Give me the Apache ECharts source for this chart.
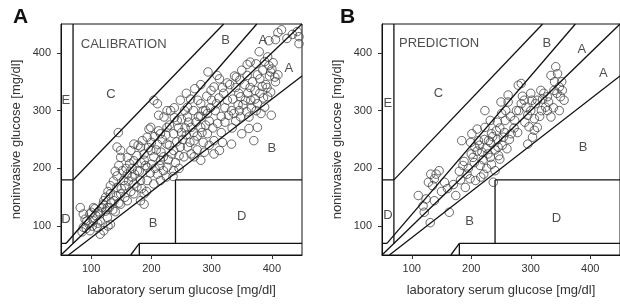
<!DOCTYPE html>
<html>
<head>
<meta charset="utf-8">
<script src="https://cdn.jsdelivr.net/npm/echarts@6/dist/echarts.min.js"></script>
<style>
  html, body { margin: 0; background: #fff; }
  #chart { width: 620px; height: 307px; }
</style>
</head>
<body>
<div id="chart"></div>
<script>
// calibration set: [laboratory, noninvasive] in mg/dl
const calibPoints = [
  [416,440],[406,423],[395,421],[410,435],[434,432],[445,428],[445,416],[442,437],[425,425],
  [379,402],[374,381],[359,380],[364,384],[393,393],[398,367],[405,358],[359,361],[347,353],[341,358],
  [309,361],[313,355],[304,341],[294,367],[299,335],[326,318],[333,300],[348,324],[365,318],[376,312],
  [382,295],[388,306],[399,292],[393,324],[362,289],[348,289],[337,295],[370,248],[376,271],[362,269],
  [333,242],[293,295],[282,312],[272,338],[277,318],[260,306],[248,318],[293,260],[304,248],[313,231],
  [304,225],[288,228],[282,271],[266,271],[260,289],[271,248],[260,237],[243,283],[237,260],[226,271],
  [221,289],[232,300],[215,260],[210,242],[226,242],[237,231],[248,237],[254,220],[271,220],[282,214],
  [204,318],[210,312],[212,292],[199,271],[193,254],[182,237],[199,231],[204,220],[215,214],[226,202],
  [237,196],[210,190],[193,202],[188,214],[171,242],[166,231],[160,219],[149,231],[143,237],[149,219],
  [171,213],[177,196],[160,190],[143,187],[154,179],[171,173],[182,179],[193,179],[204,173],[215,179],
  [188,156],[171,156],[160,144],[149,138],[138,144],[132,156],[149,156],[188,138],[182,144],[143,167],
  [127,132],[115,121],[121,144],[104,132],[98,121],[87,121],[82,132],[93,109],[104,109],[115,109],
  [127,115],[87,98],[98,92],[110,98],[121,92],[132,103],[85,90],[115,86],[145,262],
  [320,330],[330,345],[340,340],[350,370],[355,345],[368,350],[372,335],[380,355],[385,370],[390,345],
  [395,378],[400,372],[402,383],[388,385],[376,362],[360,330],[345,330],[335,320],[322,305],[316,290],
  [308,312],[300,318],[292,325],[286,300],[278,290],[270,300],[265,320],[255,300],[250,285],[245,270],
  [238,288],[230,275],[224,258],[218,250],[212,265],[205,255],[200,245],[195,236],[188,225],[183,210],
  [176,222],[168,200],[164,208],[158,200],[152,196],[146,205],[140,195],[137,178],[132,170],[128,160],
  [124,150],[120,138],[112,125],[108,118],[102,100],[96,104],[92,96],[90,112],[100,124],[106,130],
  [118,132],[124,126],[130,132],[136,128],[142,152],[150,165],[156,170],[162,178],[168,185],[176,168],
  [184,165],[192,160],[198,192],[206,200],[214,205],[220,220],[228,215],[234,225],[240,210],[246,222],
  [252,250],[258,258],[264,245],[270,262],[276,256],[284,262],[290,275],[296,282],[302,270],[310,278],
  [316,262],[322,280],[328,292],[334,270],[340,282],[346,300],[352,310],[358,298],[366,305],[372,320],
  [380,330],[386,322],[392,340],[398,332],[406,350],[410,362],[396,360],[384,342],[350,260],[318,245],
  [296,240],[286,245],[276,232],[266,225],[246,200],[236,186],[225,185],[220,196],[200,207],[180,195],
  [166,160],[156,150],[146,140],[133,140],[140,125],[128,100],[111,105],[230,240],[242,246],[256,270],
  [262,280],[274,280],[282,290],[290,300],[298,305],[306,300],[312,322],[318,340],[326,348],[338,360],
  [344,310],[356,318],[364,340],[374,300],[250,262],[216,228],[208,232],[190,205],[185,248],[172,190],
  [178,240],[196,268],[226,300],[238,305],[258,330],[282,345]
];

// prediction set
const predPoints = [
  [111,153],[119,135],[121,124],[124,147],[128,176],[132,190],[141,190],[146,196],[135,170],[138,144],
  [131,106],[155,176],[163,124],[174,153],[184,248],[186,205],[190,167],[193,190],[199,245],[201,260],
  [206,237],[203,219],[210,268],[212,248],[207,179],[215,205],[218,228],[221,190],[223,271],[229,248],
  [232,283],[232,219],[234,207],[237,176],[240,196],[242,265],[245,237],[248,216],[250,315],[251,295],
  [254,254],[257,283],[260,234],[262,315],[267,260],[273,283],[276,300],[279,344],[284,312],[289,318],
  [292,306],[295,292],[297,272],[300,330],[306,286],[295,242],[303,254],[311,318],[317,335],[318,300],
  [325,306],[328,324],[334,289],[334,361],[342,376],[345,364],[348,341],[350,324],[353,335],[356,318],
  [339,335],[328,300],[311,271],[306,266],[284,347],[262,327],[234,260],[223,300],
  [180,195],[188,212],[195,200],[200,225],[205,210],[210,230],[214,240],[220,215],[225,235],[228,225],
  [232,245],[236,255],[240,232],[244,250],[248,270],[252,240],[256,262],[226,200],[216,185],[198,182],
  [182,180],[170,172],[160,165],[150,160],[244,280],[258,300],[266,290],[272,270],[280,300],[286,325],
  [290,280],[300,300],[308,312],[315,290],[322,330],[330,315],[338,305],[344,330],[348,300],[352,350],
  [340,350],[320,320],[302,318],[246,222],[264,250],[278,262],[222,250],[138,182]
];

// error grid boundaries (mg/dl)
const zoneLines = [
  [[50, 50], [450, 450]],
  [[50, 70], [58.33, 70]],
  [[58.33, 70], [375, 450]],
  [[70, 70], [70, 450]],
  [[50, 180], [70, 180]],
  [[70, 180], [320, 450]],
  [[62.5, 50], [450, 360]],
  [[165.7, 50], [180, 70]],
  [[180, 50], [180, 70]],
  [[180, 70], [450, 70]],
  [[240, 70], [240, 180]],
  [[240, 180], [450, 180]]
];

const zoneTextA = ['CALIBRATION', 'B', 'A', 'A', 'C', 'E', 'B', 'D', 'B', 'D'];
const zoneXA = [154, 323, 385, 428, 133, 58, 400, 58, 203, 350];
const zoneYA = [414, 422, 422, 373, 328, 318, 234, 112, 104, 116];

const zoneTextB = ['PREDICTION', 'B', 'A', 'A', 'C', 'E', 'B', 'D', 'B', 'D'];
const zoneXB = [146, 327, 386, 422, 145, 60, 388, 60, 197, 343];
const zoneYB = [417, 417, 406, 365, 330, 312, 236, 118, 109, 114];

const ticks = [100, 200, 300, 400];

const font = 'Liberation Sans, Arial, sans-serif';
const chart = echarts.init(document.getElementById('chart'));

const makeX = (i) => ({
  type: 'value', gridIndex: i, min: 50, max: 450,
  name: 'laboratory serum glucose [mg/dl]', nameLocation: 'middle', nameGap: 29,
  nameTextStyle: { fontSize: 13, color: '#333', fontFamily: font },
  axisLine: { lineStyle: { color: '#111', width: 1 } },
  axisTick: { length: 4, lineStyle: { color: '#333' }, customValues: ticks },
  axisLabel: { fontSize: 11, color: '#333', margin: 8, fontFamily: font, customValues: ticks },
  splitLine: { show: false }
});

const makeY = (i) => ({
  type: 'value', gridIndex: i, min: 50, max: 450,
  name: 'noninvasive glucose [mg/dl]', nameLocation: 'middle', nameGap: 38,
  nameTextStyle: { fontSize: 13, color: '#333', fontFamily: font },
  axisLine: { lineStyle: { color: '#111', width: 1 } },
  axisTick: { length: 4, lineStyle: { color: '#333' }, customValues: ticks },
  axisLabel: { fontSize: 11, color: '#333', margin: 10, fontFamily: font, customValues: ticks },
  splitLine: { show: false }
});

const series = [];
[0, 1].forEach(i => {
  zoneLines.forEach(seg => {
    series.push({
      type: 'line', xAxisIndex: i, yAxisIndex: i, data: seg,
      symbol: 'none', silent: true, animation: false,
      lineStyle: { color: '#111', width: 1.3 }
    });
  });
  series.push({
    type: 'scatter', xAxisIndex: i, yAxisIndex: i,
    data: i === 0 ? calibPoints : predPoints,
    symbol: 'circle', symbolSize: 8.5, animation: false,
    itemStyle: { color: 'rgba(0,0,0,0)', borderColor: '#444', borderWidth: 1 }
  });
  const txt = i === 0 ? zoneTextA : zoneTextB;
  const xs = i === 0 ? zoneXA : zoneXB;
  const ys = i === 0 ? zoneYA : zoneYB;
  series.push({
    type: 'scatter', xAxisIndex: i, yAxisIndex: i,
    data: txt.map((t, k) => [xs[k], ys[k], t]),
    symbolSize: 0, silent: true, animation: false,
    itemStyle: { color: 'rgba(0,0,0,0)' },
    label: {
      show: true, position: 'inside', formatter: p => p.value[2],
      fontSize: 13, color: '#222', fontFamily: font
    }
  });
});

chart.setOption({
  animation: false,
  textStyle: { fontFamily: font },
  title: [
    { text: 'A', left: 8, top: 2, textStyle: { fontSize: 21, fontWeight: 'bold', color: '#111', fontFamily: font } },
    { text: 'B', left: 335, top: 2, textStyle: { fontSize: 21, fontWeight: 'bold', color: '#111', fontFamily: font } }
  ],
  grid: [
    { left: 61, top: 24, width: 241, height: 231, show: true, borderColor: '#111', borderWidth: 1 },
    { left: 382, top: 24, width: 242, height: 231, show: true, borderColor: '#111', borderWidth: 1 }
  ],
  xAxis: [makeX(0), makeX(1)],
  yAxis: [makeY(0), makeY(1)],
  series
});
</script>
</body>
</html>
